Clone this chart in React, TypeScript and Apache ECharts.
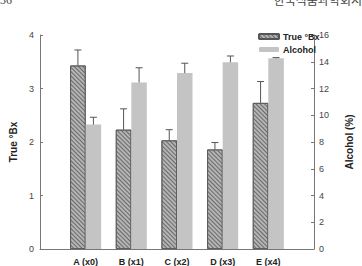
import React, { useEffect, useRef } from "react";
import * as echarts from "echarts";

const categories = ["A (x0)", "B (x1)", "C (x2)", "D (x3)", "E (x4)"];
const trueBx = [3.43, 2.23, 2.03, 1.86, 2.73];
const trueBxErr = [0.29, 0.39, 0.2, 0.13, 0.4];
const alcohol = [9.3, 12.45, 13.15, 13.96, 14.26];
const alcoholErr = [0.55, 1.1, 0.74, 0.47, 0.05];
const leftTicks = [0, 1, 2, 3, 4];
const rightTicks = [0, 2, 4, 6, 8, 10, 12, 14, 16];

const BAR_W = 15.5;

function makeErr(values: number[], errs: number[], offset: number, yAxisIndex: number) {
  return {
    type: "custom",
    yAxisIndex,
    silent: true,
    data: values.map((v, i) => [i + 1, v, v + errs[i]]),
    renderItem: (_params: any, api: any) => {
      const x = api.value(0);
      const low = api.coord([x, api.value(1)]);
      const high = api.coord([x, api.value(2)]);
      const cx = low[0] + offset;
      const style = { stroke: "#555", lineWidth: 1, fill: "none" };
      return {
        type: "group",
        children: [
          { type: "line", shape: { x1: cx, y1: low[1], x2: cx, y2: high[1] }, style },
          { type: "line", shape: { x1: cx - 3.5, y1: high[1], x2: cx + 3.5, y2: high[1] }, style },
        ],
      };
    },
    z: 5,
  };
}

export default function App() {
  const ref = useRef<HTMLDivElement>(null);
  useEffect(() => {
    if (!ref.current) return;
    const chart = echarts.init(ref.current, undefined, { renderer: "svg" });
    const axisCats = ["", ...categories, ""];
    const pad = (arr: number[]) => ["-", ...arr, "-"];
    const font = "Liberation Sans, Arial, sans-serif";
    chart.setOption({
      animation: false,
      textStyle: { fontFamily: font },
      grid: { left: 29, right: 35, top: 35, bottom: 16 },
      legend: {
        orient: "vertical",
        left: 253,
        top: 27,
        itemWidth: 20,
        itemHeight: 5,
        itemGap: 4,
        textStyle: { fontSize: 9, fontWeight: "bold", color: "#222", padding: [0, 0, 0, -1] },
        data: ["True °Bx", "Alcohol"],
      },
      xAxis: {
        type: "category",
        data: axisCats,
        boundaryGap: false,
        axisLine: { lineStyle: { color: "#777", width: 1 } },
        axisTick: { show: false },
        axisLabel: { fontSize: 9, fontWeight: "bold", color: "#222", margin: 8, interval: 0 },
      },
      yAxis: [
        {
          type: "value",
          min: leftTicks[0],
          max: leftTicks[leftTicks.length - 1],
          interval: 1,
          name: "True °Bx",
          nameLocation: "middle",
          nameGap: 22,
          nameTextStyle: { fontSize: 10, fontWeight: "bold", color: "#222" },
          axisLine: { show: true, lineStyle: { color: "#777" } },
          axisTick: { show: true, inside: true, length: 3, lineStyle: { color: "#777" } },
          axisLabel: { fontSize: 9, color: "#444", margin: 6 },
          splitLine: { show: false },
        },
        {
          type: "value",
          position: "right",
          min: rightTicks[0],
          max: rightTicks[rightTicks.length - 1],
          interval: 2,
          name: "Alcohol (%)",
          nameLocation: "middle",
          nameGap: 30,
          nameTextStyle: { fontSize: 10, fontWeight: "bold", color: "#222" },
          axisLine: { show: true, lineStyle: { color: "#777" } },
          axisTick: { show: true, inside: true, length: 3, lineStyle: { color: "#777" } },
          axisLabel: { fontSize: 9, color: "#444", margin: 5 },
          splitLine: { show: false },
        },
      ],
      series: [
        {
          name: "True °Bx",
          type: "bar",
          yAxisIndex: 0,
          data: pad(trueBx),
          barWidth: BAR_W,
          barGap: "0%",
          itemStyle: {
            color: "#b4b4b4",
            borderColor: "#555",
            borderWidth: 0.8,
            decal: {
              symbol: "rect",
              symbolSize: 1,
              color: "#6a6a6a",
              dashArrayX: [1, 0],
              dashArrayY: [1, 1.5],
              rotation: Math.PI / 4,
            },
          },
        },
        {
          name: "Alcohol",
          type: "bar",
          yAxisIndex: 1,
          data: pad(alcohol),
          barWidth: BAR_W,
          barGap: "0%",
          itemStyle: { color: "#c4c4c4" },
        },
        makeErr(trueBx, trueBxErr, -BAR_W / 2, 0),
        makeErr(alcohol, alcoholErr, BAR_W / 2, 1),
      ],
      graphic: [
        { type: "text", left: 0, top: -6, style: { text: "36", fontSize: 12, fill: "#444", fontFamily: "Liberation Serif, serif" } },
        { type: "text", right: 0, top: -7, style: { text: "한국식품과학회지", fontSize: 12, fill: "#444", fontFamily: "Noto Sans CJK KR" } },
      ],
    });
    return () => chart.dispose();
  }, []);
  return <div ref={ref} style={{ width: 362, height: 266, position: "absolute", left: 0, top: 0 }} />;
}
